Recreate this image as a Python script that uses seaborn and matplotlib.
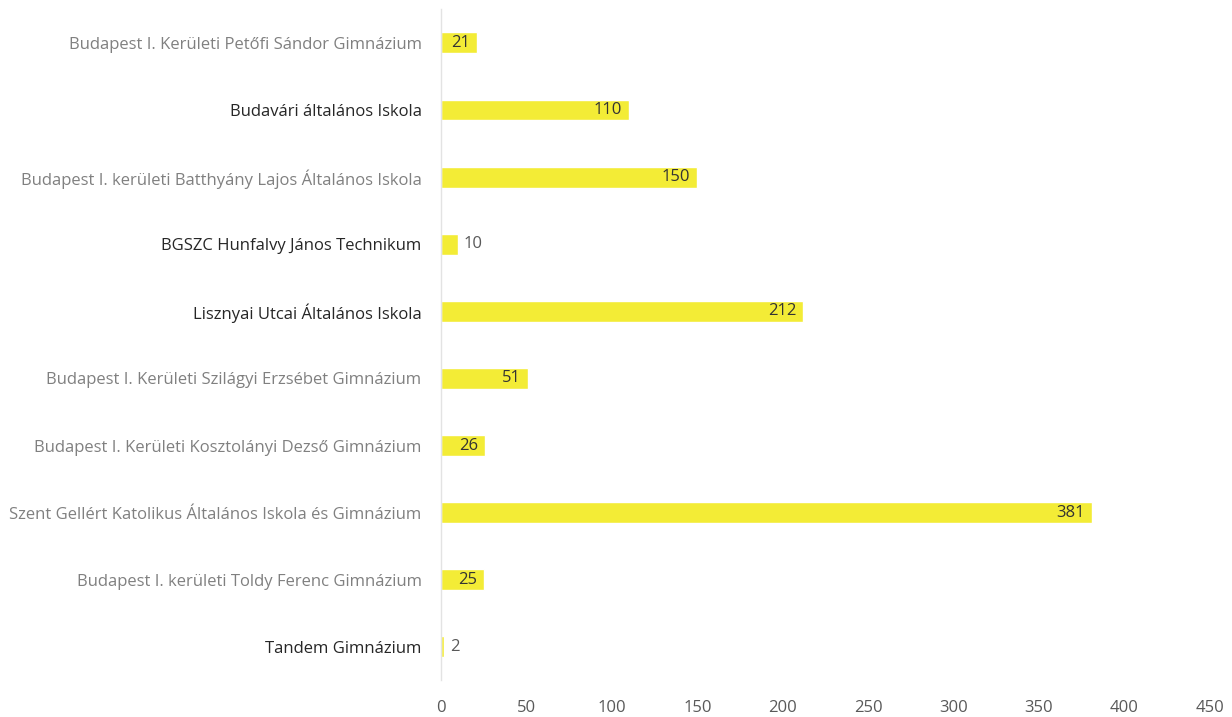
import matplotlib
matplotlib.use("Agg")
import matplotlib.pyplot as plt
import seaborn as sns
import pandas as pd

schools = [
    "Budapest I. Kerületi Petőfi Sándor Gimnázium",
    "Budavári általános Iskola",
    "Budapest I. kerületi Batthyány Lajos Általános Iskola",
    "BGSZC Hunfalvy János Technikum",
    "Lisznyai Utcai Általános Iskola",
    "Budapest I. Kerületi Szilágyi Erzsébet Gimnázium",
    "Budapest I. Kerületi Kosztolányi Dezső Gimnázium",
    "Szent Gellért Katolikus Általános Iskola és Gimnázium",
    "Budapest I. kerületi Toldy Ferenc Gimnázium",
    "Tandem Gimnázium",
]
values = [21, 110, 150, 10, 212, 51, 26, 381, 25, 2]
dark_labels = {"Budavári általános Iskola", "BGSZC Hunfalvy János Technikum",
               "Lisznyai Utcai Általános Iskola", "Tandem Gimnázium"}
xticks = [0, 50, 100, 150, 200, 250, 300, 350, 400, 450]

sns.set_theme(style="white")
plt.rcParams['font.family'] = ['Open Sans', 'DejaVu Sans']

df = pd.DataFrame({"school": schools, "value": values})

fig = plt.figure(figsize=(12.32, 7.17), dpi=100)
ax = fig.add_axes([0.358, 0.051, 0.624, 0.936])
sns.barplot(data=df, y="school", x="value", orient="h", color="#F3EC36",
            width=0.31, ax=ax, saturation=1)

ax.set_xlim(0, 450)
ax.set_ylim(len(schools) - 0.5, -0.5)
ax.set_xticks(xticks)
ax.set_xlabel("")
ax.set_ylabel("")
for s in ["top", "right", "bottom"]:
    ax.spines[s].set_visible(False)
ax.spines["left"].set_color("#E3E3E3")
ax.spines["left"].set_linewidth(1.0)
ax.tick_params(axis="x", length=0, labelsize=12, colors="#595959", pad=14)
ax.tick_params(axis="y", length=0, labelsize=12, pad=14)
for lbl in ax.get_yticklabels():
    lbl.set_color("#262626" if lbl.get_text() in dark_labels else "#808080")

for i, v in enumerate(values):
    if v < 15:
        ax.annotate(str(v), (v, i), xytext=(4, 0), textcoords="offset points",
                    ha="left", va="center", fontsize=12, color="#595959")
    else:
        ax.annotate(str(v), (v, i), xytext=(-5, 0), textcoords="offset points",
                    ha="right", va="center", fontsize=12, color="#333333")

fig.savefig("out.png", dpi=100)
